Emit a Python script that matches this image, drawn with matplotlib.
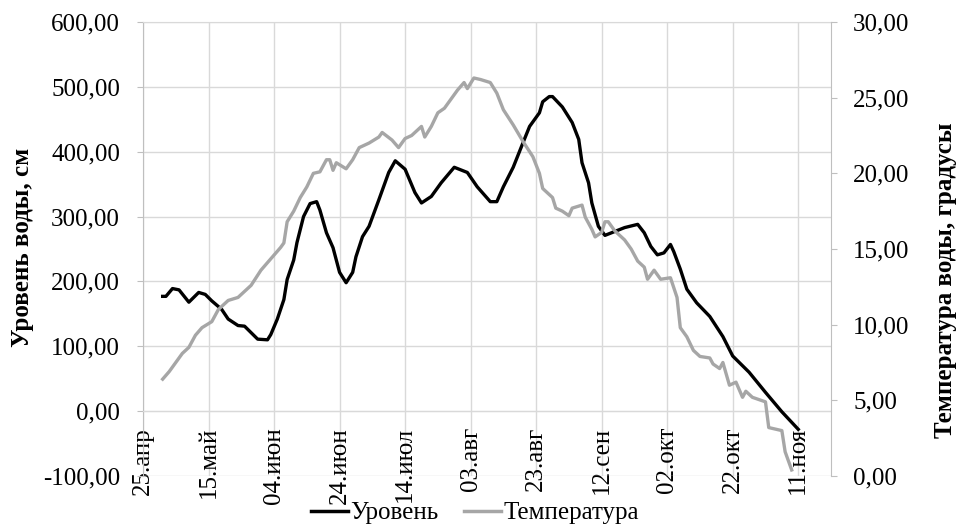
import numpy as np
import matplotlib
matplotlib.use('Agg')
import matplotlib.pyplot as plt
from matplotlib.lines import Line2D

plt.rcParams['font.family'] = ['Liberation Serif', 'DejaVu Serif']

# ---------------- data ----------------
start_date = np.datetime64('2015-04-25')

# days after 25 Apr, water level (cm)
level_days = [6, 7, 9, 11, 14, 17, 19, 21, 24, 26,
              29, 31, 33, 35, 38, 39, 41, 43, 44, 46,
              47, 49, 51, 53, 54, 56, 58, 60, 62, 64,
              65, 67, 69, 72, 75, 77, 80, 83, 85, 88,
              91, 95, 99, 102, 106, 108, 110, 113, 116, 118,
              121, 122, 124, 125, 128, 131, 133, 134, 136, 137,
              139, 141, 143, 147, 151, 153, 155, 157, 159, 161,
              162, 164, 166, 169, 173, 177, 180, 185, 190, 195,
              200]
level_cm = [177, 177, 189, 187, 168, 183, 180, 170, 157, 142,
            132, 131, 121, 111, 110, 118, 142, 172, 203, 233,
            260, 300, 320, 323, 310, 275, 252, 214, 198, 214,
            238, 269, 285, 326, 368, 386, 373, 337, 321, 331,
            352, 376, 368, 346, 323, 323, 346, 376, 414, 439,
            460, 477, 485, 485, 469, 445, 419, 383, 352, 321,
            285, 271, 275, 283, 288, 275, 254, 241, 244, 257,
            246, 219, 188, 167, 146, 115, 85, 60, 29, -1,
            -28]

# days after 25 Apr, water temperature (degrees)
temp_days = [6, 8, 10, 12, 14, 16, 18, 21, 23, 26,
             29, 31, 33, 36, 38, 40, 42, 43, 44, 46,
             48, 50, 52, 54, 56, 57, 58, 59, 62, 64,
             66, 69, 72, 73, 76, 78, 80, 82, 85, 86,
             88, 90, 92, 94, 96, 98, 99, 101, 103, 106,
             108, 110, 113, 116, 119, 121, 122, 125, 126, 128,
             130, 131, 134, 135, 137, 138, 140, 141, 142, 144,
             147, 149, 151, 153, 154, 156, 158, 161, 163, 164,
             166, 168, 170, 173, 174, 176, 177, 179, 181, 183,
             184, 186, 190, 191, 195, 196, 198]
temp_c = [6.4, 6.9, 7.5, 8.1, 8.5, 9.3, 9.8, 10.2, 11.0, 11.6,
          11.8, 12.2, 12.6, 13.6, 14.1, 14.6, 15.1, 15.4, 16.8, 17.5,
          18.4, 19.1, 20.0, 20.1, 20.9, 20.9, 20.2, 20.7, 20.3, 20.9,
          21.7, 22.0, 22.4, 22.7, 22.2, 21.7, 22.3, 22.5, 23.1, 22.4,
          23.1, 24.0, 24.3, 24.9, 25.5, 26.0, 25.6, 26.3, 26.2, 26.0,
          25.3, 24.2, 23.2, 22.1, 21.1, 20.0, 19.0, 18.4, 17.7, 17.5,
          17.2, 17.7, 17.9, 17.1, 16.3, 15.8, 16.1, 16.8, 16.8, 16.2,
          15.6, 15.0, 14.2, 13.8, 13.0, 13.6, 13.0, 13.1, 11.8, 9.8,
          9.2, 8.3, 7.9, 7.8, 7.4, 7.1, 7.5, 6.0, 6.2, 5.2,
          5.6, 5.2, 4.9, 3.2, 3.0, 1.6, 0.4]

tick_days = [0, 20, 40, 60, 80, 100, 120, 140, 160, 180, 200]
tick_labels = ['25.апр', '15.май', '04.июн', '24.июн', '14.июл', '03.авг',
               '23.авг', '12.сен', '02.окт', '22.окт', '11.ноя']
left_ticks = [-100, 0, 100, 200, 300, 400, 500, 600]
right_ticks = [0, 5, 10, 15, 20, 25, 30]
series_names = ['Уровень', 'Температура']

# ---------------- figure ----------------
W, H = 963, 528
fig = plt.figure(figsize=(W / 100, H / 100), dpi=100)
ax = fig.add_axes([143 / W, 52 / H, 688 / W, 454 / H])

def to_dates(days):
    return start_date + np.array(days).astype('timedelta64[D]')

grid_c = '#d9d9d9'
axis_c = '#bfbfbf'
gray_c = '#a6a6a6'

ax.plot(to_dates(level_days), level_cm, color='black', lw=2.4,
        solid_joinstyle='round', zorder=3)

ax2 = ax.twinx()
ax2.plot(to_dates(temp_days), temp_c, color=gray_c, lw=2.4,
         solid_joinstyle='round')

ax.set_ylim(-100, 600)
ax.set_yticks(left_ticks)
ax.set_yticklabels([f"{v:.2f}".replace('.', ',') for v in left_ticks])
ax.set_xlim(to_dates([0])[0], to_dates([210])[0])
ax.set_xticks(to_dates(tick_days))
ax.set_xticklabels(tick_labels)

ax.grid(True, color=grid_c, lw=1.0)
ax.set_axisbelow(True)
ax.spines['bottom'].set_position(('data', 0))
ax.spines['bottom'].set_color(grid_c)
ax.spines['top'].set_color(grid_c)
ax.spines['left'].set_color(axis_c)
ax.spines['right'].set_visible(False)
ax.tick_params(axis='x', length=0, pad=11.5, labelsize=18, labelrotation=90)
ax.tick_params(axis='y', length=4, color=axis_c, pad=12.5, labelsize=18)
for lab in ax.get_xticklabels():
    lab.set_rotation(90)
    lab.set_va('top')
    lab.set_ha('center')

ax2.set_ylim(0, 30)
ax2.set_yticks(right_ticks)
ax2.set_yticklabels([f"{v:.2f}".replace('.', ',') for v in right_ticks])
for s in ['top', 'bottom', 'left']:
    ax2.spines[s].set_visible(False)
ax2.spines['right'].set_color(axis_c)
ax2.tick_params(axis='y', length=4, color=axis_c, pad=12, labelsize=18)

fig.text(22 / W, 1 - 247 / H, 'Уровень воды, см', rotation=90,
         fontsize=18, fontweight='bold', ha='center', va='center')
fig.text(945 / W, 1 - 280 / H, 'Температура воды, градусы', rotation=90,
         fontsize=18, fontweight='bold', ha='center', va='center')

handles = [Line2D([], [], color='black', lw=2.5),
           Line2D([], [], color=gray_c, lw=2.5)]
fig.legend(handles, series_names, loc='center',
           bbox_to_anchor=(475 / W, 1 - 513 / H), ncol=2, frameon=False,
           fontsize=18, handlelength=1.5, handletextpad=0.1,
           columnspacing=1.0, borderpad=0)

fig.savefig('out.png', dpi=100)
